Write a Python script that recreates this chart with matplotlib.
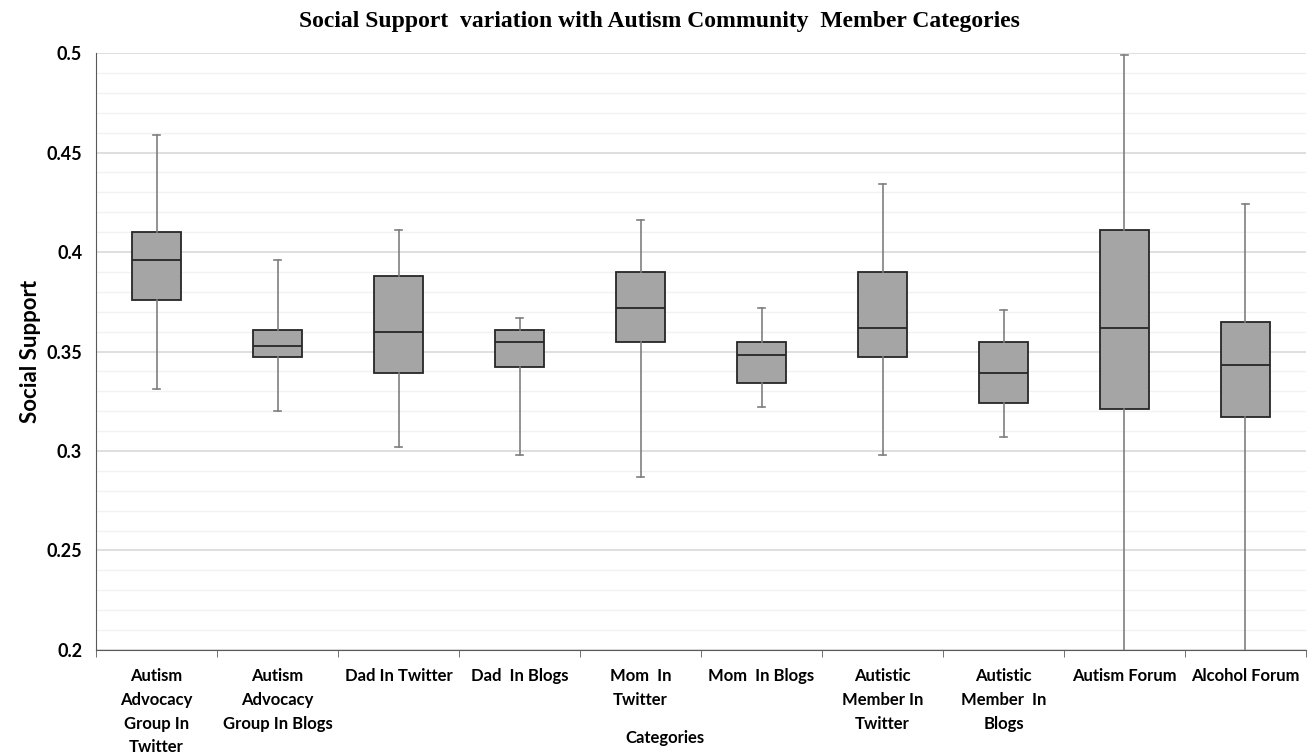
import numpy as np
import matplotlib.pyplot as plt
from matplotlib.ticker import MultipleLocator

categories = ['Autism\nAdvocacy\nGroup In\nTwitter', 'Autism\nAdvocacy\nGroup In Blogs',
              'Dad In Twitter', 'Dad  In Blogs', 'Mom  In\nTwitter', 'Mom  In Blogs',
              'Autistic\nMember In\nTwitter', 'Autistic\nMember  In\nBlogs',
              'Autism Forum', 'Alcohol Forum']

whisker_low = [0.331, 0.320, 0.302, 0.298, 0.287, 0.322, 0.298, 0.307, 0.19, 0.19]
q1 = [0.376, 0.347, 0.339, 0.342, 0.355, 0.334, 0.347, 0.324, 0.321, 0.317]
median = [0.396, 0.353, 0.360, 0.355, 0.372, 0.348, 0.362, 0.339, 0.362, 0.343]
q3 = [0.410, 0.361, 0.388, 0.361, 0.390, 0.355, 0.390, 0.355, 0.411, 0.365]
whisker_high = [0.459, 0.396, 0.411, 0.367, 0.416, 0.372, 0.434, 0.371, 0.499, 0.424]

stats = []
for i in range(len(categories)):
    stats.append({'whislo': whisker_low[i], 'q1': q1[i], 'med': median[i],
                  'q3': q3[i], 'whishi': whisker_high[i], 'fliers': []})

fig = plt.figure(figsize=(13.14, 7.53), dpi=100)
ax = fig.add_axes([0.0731, 0.1368, 0.9208, 0.7928])

pos = np.arange(len(categories))
ax.bxp(stats, positions=pos, widths=0.4, patch_artist=True, showfliers=False,
       boxprops=dict(facecolor='#a5a5a5', edgecolor='#262626', linewidth=1.3),
       medianprops=dict(color='#262626', linewidth=1.3),
       whiskerprops=dict(color='#7f7f7f', linewidth=1.2),
       capprops=dict(color='#7f7f7f', linewidth=1.2), capwidths=0.06)

ax.set_xlim(-0.5, len(categories) - 0.5)
ax.set_ylim(0.2, 0.5)
ax.yaxis.set_major_locator(MultipleLocator(0.05))
ax.yaxis.set_minor_locator(MultipleLocator(0.01))
ax.set_yticklabels([f'{v:g}' for v in ax.get_yticks()])
ax.grid(axis='y', which='major', color='#d9d9d9', linewidth=1.2)
ax.grid(axis='y', which='minor', color='#f2f2f2', linewidth=1.0)
ax.set_axisbelow(True)

ax.set_xticks(pos)
ax.set_xticklabels(categories, fontfamily='Lato', fontweight='bold', fontsize=12,
                   linespacing=1.6, va='top')
ax.set_xticks(np.arange(len(categories) + 1) - 0.5, minor=True)
ax.tick_params(axis='x', which='major', length=0, pad=13)
ax.tick_params(axis='x', which='minor', length=5, color='#595959')
ax.tick_params(axis='y', which='both', length=0, pad=10, labelsize=13)
for lab in ax.get_yticklabels():
    lab.set_fontweight('bold')
    lab.set_fontfamily('Lato')

for s in ['top', 'right']:
    ax.spines[s].set_visible(False)
ax.spines['left'].set_color('#595959')
ax.spines['bottom'].set_color('#595959')

ax.set_ylabel('Social Support', fontfamily='Lato', fontweight='bold', fontsize=16, labelpad=4)
fig.text(0.506, 0.02, 'Categories', fontfamily='Lato', fontweight='bold', fontsize=12,
         ha='center', va='center')
fig.text(0.502, 0.971, 'Social Support  variation with Autism Community  Member Categories',
         fontfamily='Liberation Serif', fontweight='bold', fontsize=17, ha='center', va='center')

plt.savefig('out.png', dpi=100)
